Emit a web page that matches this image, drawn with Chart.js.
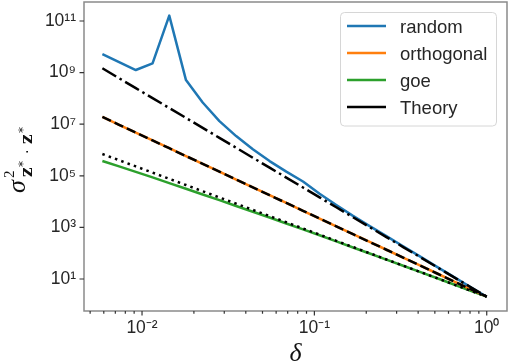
<!DOCTYPE html>
<html><head><meta charset="utf-8">
<script src="https://cdn.jsdelivr.net/npm/chart.js@4.4.1/dist/chart.umd.min.js"></script>
<style>html,body{margin:0;padding:0;background:#fff;overflow:hidden}#wrap{width:508px;height:364px;position:relative}</style>
</head><body><div id="wrap"><canvas id="c" width="508" height="364"></canvas></div>
<script>
// δ values (x)
const delta = [0.005888, 0.007362, 0.009204, 0.01151, 0.01439, 0.01799, 0.02249, 0.02812, 0.03516, 0.04395, 0.05495, 0.06871, 0.08590, 0.1072, 0.1340, 0.1675, 0.2094, 0.2618, 0.3273, 0.4093, 0.5117, 0.6397, 0.7998, 1.0];
// measured series
const randomVals = [5.25e9, 2.57e9, 1.26e9, 2.29e9, 1.62e11, 5.13e8, 6.92e7, 1.32e7, 3.47e6, 1.07e6, 3.72e5, 1.45e5, 6.03e4, 2.0e4, 7.4e3, 2.8e3, 1.12e3, 457, 186, 75, 30.2, 12.3, 5.0, 2.06];
const orthogonalVals = [1.91e7, 9.49e6, 4.72e6, 2.35e6, 1.17e6, 5.82e5, 2.90e5, 1.44e5, 7.18e4, 3.57e4, 1.78e4, 8.85e3, 4.41e3, 2.21e3, 1.10e3, 547, 272, 136, 67.5, 33.6, 16.7, 8.32, 4.14, 2.06];
const goeVals = [3.75e5, 2.31e5, 1.42e5, 8.67e4, 5.21e4, 3.14e4, 1.89e4, 1.14e4, 6.76e3, 4.06e3, 2.42e3, 1.42e3, 838, 495, 288, 167, 97.2, 56.2, 32.6, 18.8, 10.9, 6.24, 3.59, 2.06];
// theory curves
const theoryRandom = [1.47e9, 6.05e8, 2.49e8, 1.03e8, 4.24e7, 1.75e7, 7.19e6, 2.96e6, 1.22e6, 5.02e5, 2.07e5, 8.53e4, 3.52e4, 1.46e4, 6.03e3, 2.48e3, 1.02e3, 422, 173, 71.5, 29.4, 12.1, 5.00, 2.06];
const theoryOrthogonal = [1.91e7, 9.49e6, 4.72e6, 2.35e6, 1.17e6, 5.82e5, 2.90e5, 1.44e5, 7.18e4, 3.57e4, 1.78e4, 8.85e3, 4.41e3, 2.21e3, 1.10e3, 547, 272, 136, 67.5, 33.6, 16.7, 8.32, 4.14, 2.06];
const theoryGoe = [6.98e5, 4.02e5, 2.31e5, 1.33e5, 7.62e4, 4.39e4, 2.52e4, 1.45e4, 8.32e3, 4.78e3, 2.75e3, 1.58e3, 908, 525, 301, 173, 99.5, 57.1, 32.9, 18.9, 10.9, 6.24, 3.59, 2.06];
// ticks
const xMajorTicks = [0.01, 0.1, 1];
const xTickLabels = ['10\u207B\u00B2', '10\u207B\u00B9', '10\u2070'];
const xMinorTicks = [0.005, 0.006, 0.007, 0.008, 0.009, 0.02, 0.03, 0.04, 0.05, 0.06, 0.07, 0.08, 0.09, 0.2, 0.3, 0.4, 0.5, 0.6, 0.7, 0.8, 0.9];
const yTicks = [1e1, 1e3, 1e5, 1e7, 1e9, 1e11];
const yTickLabels = ['10\u00B9', '10\u00B3', '10\u2075', '10\u2077', '10\u2079', '10\u00B9\u00B9'];
const legendLabels = ['random', 'orthogonal', 'goe', 'Theory'];
const legendColors = ['#1f77b4', '#ff7f0e', '#2ca02c', '#000000'];

const pts = arr => delta.map((d, i) => ({x: d, y: arr[i]}));
const TXT = '#262626';
const SANS = '"Liberation Sans", Arial, Helvetica, sans-serif';

const framePlugin = {
  id: 'frame',
  afterDraw(chart) {
    const ctx = chart.ctx, a = chart.chartArea;
    const xs = chart.scales.x, ys = chart.scales.y;
    ctx.save();
    // spines
    ctx.strokeStyle = '#8a8a8a';
    ctx.lineWidth = 1.5;
    ctx.strokeRect(a.left, a.top, a.right - a.left, a.bottom - a.top);
    // tick marks
    ctx.strokeStyle = '#333';
    ctx.lineWidth = 1.2;
    ctx.beginPath();
    xMajorTicks.forEach(v => { const p = xs.getPixelForValue(v); ctx.moveTo(p, a.bottom); ctx.lineTo(p, a.bottom + 4.5); });
    xMinorTicks.forEach(v => { const p = xs.getPixelForValue(v); ctx.moveTo(p, a.bottom); ctx.lineTo(p, a.bottom + 2.7); });
    yTicks.forEach(v => { const p = ys.getPixelForValue(v); ctx.moveTo(a.left, p); ctx.lineTo(a.left - 4.5, p); });
    ctx.stroke();
    // legend
    const lx = 340.5, ly = 12.5, lw = 156, lh = 113.5;
    ctx.beginPath();
    ctx.roundRect(lx, ly, lw, lh, 4);
    ctx.fillStyle = 'rgba(255,255,255,0.8)';
    ctx.fill();
    ctx.strokeStyle = '#d6d6d6';
    ctx.lineWidth = 1;
    ctx.stroke();
    const rows = [26, 53, 80, 107];
    ctx.font = '18.5px ' + SANS;
    ctx.textBaseline = 'alphabetic';
    ctx.textAlign = 'left';
    legendLabels.forEach((lab, i) => {
      ctx.beginPath();
      ctx.strokeStyle = legendColors[i];
      ctx.lineWidth = 2.5;
      ctx.moveTo(347, rows[i]); ctx.lineTo(386, rows[i]);
      ctx.stroke();
      ctx.fillStyle = TXT;
      ctx.fillText(lab, 400, rows[i] + 6.5);
    });
    // x axis title
    ctx.fillStyle = '#111';
    ctx.font = 'italic 26px "Liberation Serif", "Times New Roman", serif';
    ctx.textAlign = 'center';
    ctx.fillText('\u03B4', (a.left + a.right) / 2, 361);
    // y axis title  sigma^2_{z*.z*}
    ctx.translate(25, 193);
    ctx.rotate(-Math.PI / 2);
    ctx.textAlign = 'left';
    ctx.font = 'italic 26px "Liberation Serif", "Times New Roman", serif';
    ctx.fillText('\u03C3', 0, 0);
    ctx.font = '15px "Liberation Serif", serif';
    ctx.fillText('2', 15, -11);
    ctx.font = 'bold 17px "DejaVu Serif", serif';
    ctx.fillText('z', 16, 7);
    ctx.fillText('z', 49, 7);
    ctx.font = '12px "DejaVu Sans", sans-serif';
    ctx.fillText('*', 26, 2);
    ctx.fillText('*', 60, 2);
    ctx.font = '14px "DejaVu Sans", sans-serif';
    ctx.fillText('\u00B7', 39, 7);
    ctx.restore();
  }
};

new Chart(document.getElementById('c'), {
  type: 'line',
  data: {
    datasets: [
      {label: 'random', data: pts(randomVals), borderColor: '#1f77b4', borderWidth: 2.5, order: 1},
      {label: 'orthogonal', data: pts(orthogonalVals), borderColor: '#ff7f0e', borderWidth: 2.5, order: 1},
      {label: 'goe', data: pts(goeVals), borderColor: '#2ca02c', borderWidth: 2.5, order: 1},
      {label: 'Theory', data: pts(theoryRandom), borderColor: '#000', borderWidth: 2.5, borderDash: [16, 4, 2.5, 4], order: 0},
      {label: 'Theory', data: pts(theoryOrthogonal), borderColor: '#000', borderWidth: 2.5, borderDash: [9.4, 4.1], order: 0},
      {label: 'Theory', data: pts(theoryGoe), borderColor: '#000', borderWidth: 2.5, borderDash: [2.5, 4.2], order: 0}
    ]
  },
  options: {
    responsive: false,
    animation: false,
    devicePixelRatio: 1,
    layout: {padding: {top: 2, right: 1, left: 0, bottom: 0}},
    elements: {
      point: {radius: 0, hoverRadius: 0},
      line: {tension: 0, fill: false, borderCapStyle: 'butt', borderJoinStyle: 'round'}
    },
    plugins: {legend: {display: false}, tooltip: {enabled: false}, title: {display: false}},
    scales: {
      x: {
        type: 'logarithmic', min: 0.004606, max: 1.311,
        afterBuildTicks: s => { s.ticks = xMajorTicks.map(v => ({value: v})); },
        afterFit: s => { s.height = 53; s.paddingLeft = 0; s.paddingRight = 0; },
        grid: {display: false, drawTicks: false},
        border: {display: false},
        ticks: {
          autoSkip: false, maxRotation: 0, padding: 7, color: TXT,
          font: {family: SANS, size: 17.5},
          callback: (v, i) => xTickLabels[i]
        }
      },
      y: {
        type: 'logarithmic', min: 0.575, max: 5.45e11,
        afterBuildTicks: s => { s.ticks = yTicks.map(v => ({value: v})); },
        afterFit: s => { s.width = 84; s.paddingTop = 0; s.paddingBottom = 0; },
        grid: {display: false, drawTicks: false},
        border: {display: false},
        ticks: {
          autoSkip: false, padding: 8, color: TXT,
          font: {family: SANS, size: 17.5},
          callback: (v, i) => yTickLabels[i]
        }
      }
    }
  },
  plugins: [framePlugin]
});
</script></body></html>
